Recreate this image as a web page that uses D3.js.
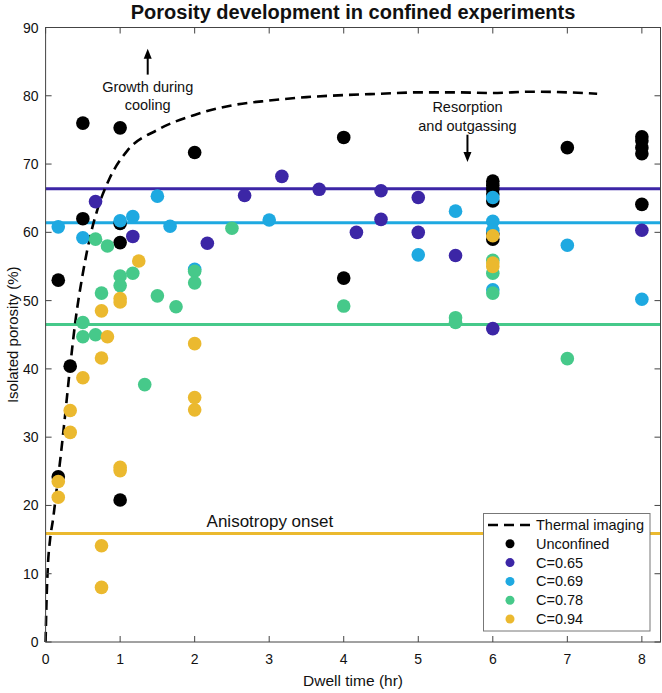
<!DOCTYPE html>
<html>
<head>
<meta charset="utf-8">
<script src="https://cdn.jsdelivr.net/npm/d3@7"></script>
<style>
  body { margin: 0; background: #fff; }
  text { font-family: "Liberation Sans", Arial, Helvetica, sans-serif; fill: #111; }
</style>
</head>
<body>
<div id="chart"></div>
<script>
// data
const unconfinedT = [0.17, 0.17, 0.33, 0.5, 0.5, 1, 1, 1, 1, 2, 4, 4, 6, 6, 6, 6, 6, 6, 6, 7, 8, 8, 8, 8, 8];
const unconfinedV = [53, 24.2, 40.4, 76, 62, 75.3, 61.3, 58.5, 20.8, 71.7, 73.9, 53.3, 67.5, 66.9, 66.3, 65.6, 64.6, 59.8, 59, 72.4, 74, 73.4, 72.4, 71.5, 64.1];

const c065T = [0.67, 1.17, 2.17, 2.67, 3.17, 3.67, 4.17, 4.5, 4.5, 5, 5, 5.5, 6, 8];
const c065V = [64.5, 59.4, 58.4, 65.4, 68.2, 66.3, 60, 66.1, 61.9, 65.1, 60, 56.6, 45.9, 60.3];

const c069T = [0.17, 0.5, 1, 1.17, 1.5, 1.67, 2, 3, 5, 5.5, 6, 6, 6, 6, 7, 8];
const c069V = [60.8, 59.2, 61.7, 62.3, 65.3, 60.9, 54.6, 61.8, 56.7, 63.1, 65.1, 61.6, 60.3, 51.6, 58.1, 50.2];

const c078T = [0.5, 0.5, 0.67, 0.67, 0.75, 0.83, 1, 1, 1.17, 1.33, 1.5, 1.75, 2, 2, 2.5, 4, 5.5, 5.5, 6, 6, 6, 7];
const c078V = [46.8, 44.7, 59, 45, 51.1, 58, 53.6, 52.2, 54, 37.7, 50.7, 49.1, 54.3, 52.6, 60.6, 49.2, 47.5, 46.8, 55.9, 54, 51.1, 41.5];

const c094T = [0.17, 0.17, 0.33, 0.33, 0.5, 0.75, 0.75, 0.75, 0.75, 0.83, 1, 1, 1, 1, 1.25, 2, 2, 2, 6, 6, 6];
const c094V = [23.5, 21.2, 33.9, 30.7, 38.7, 48.5, 41.6, 14.1, 8, 44.7, 50.3, 49.8, 25.6, 25.1, 55.8, 43.7, 35.8, 34, 59.5, 55.5, 55];

// thermal imaging curve
const thermalT = [0, 0.01, 0.03, 0.06, 0.1, 0.15, 0.2, 0.25, 0.33, 0.4, 0.5, 0.6, 0.7, 0.85, 1.1, 1.5, 2, 2.5, 3, 3.5, 4, 4.5, 5, 5.5, 6, 6.5, 7, 7.4];
const thermalV = [0, 5, 11, 15, 18, 22.5, 27, 32, 40.4, 47, 54, 59.5, 63.5, 67.7, 72, 75, 77.2, 78.6, 79.3, 79.8, 80.1, 80.3, 80.5, 80.5, 80.4, 80.6, 80.5, 80.3];

// mean levels per confinement
const levelNames = ['C=0.65', 'C=0.69', 'C=0.78', 'C=0.94'];
const levelValues = [66.4, 61.4, 46.5, 15.9];

const seriesNames = ['Unconfined', 'C=0.65', 'C=0.69', 'C=0.78', 'C=0.94'];
const seriesColors = ['#000000', '#3c26a6', '#1ea9e1', '#46c98a', '#ebb92f'];

const xTicks = [0, 1, 2, 3, 4, 5, 6, 7, 8];
const yTicks = [0, 10, 20, 30, 40, 50, 60, 70, 80, 90];

// settings
const width = 662;
const height = 693;
const margin = { top: 27.5, right: 1.5, bottom: 51, left: 45.6 };

const series = [
  { name: seriesNames[0], t: unconfinedT, v: unconfinedV },
  { name: seriesNames[1], t: c065T, v: c065V },
  { name: seriesNames[2], t: c069T, v: c069V },
  { name: seriesNames[3], t: c078T, v: c078V },
  { name: seriesNames[4], t: c094T, v: c094V }
];

const color = d3.scaleOrdinal(seriesNames, seriesColors);

const svg = d3.select('#chart')
  .append('svg')
  .attr('width', width)
  .attr('height', height);

const x = d3.scaleLinear()
  .domain([0, 8.25])
  .range([margin.left, width - margin.right]);

const y = d3.scaleLinear()
  .domain([0, 90])
  .range([height - margin.bottom, margin.top]);

const x0 = x.range()[0], x1 = x.range()[1];
const y0 = y.range()[0], y1 = y.range()[1];

// title
svg.append('text')
  .attr('x', (x0 + x1) / 2)
  .attr('y', 19)
  .attr('text-anchor', 'middle')
  .style('font-size', '20px')
  .style('font-weight', 'bold')
  .text('Porosity development in confined experiments');

// horizontal level lines
svg.append('g')
  .selectAll('line')
  .data(levelNames.map((n, i) => ({ name: n, value: levelValues[i] })))
  .join('line')
  .attr('x1', x0)
  .attr('x2', x1)
  .attr('y1', d => y(d.value))
  .attr('y2', d => y(d.value))
  .attr('stroke', d => color(d.name))
  .attr('stroke-width', 3);

// thermal imaging dashed curve
const line = d3.line()
  .curve(d3.curveMonotoneX)
  .x((d, i) => x(thermalT[i]))
  .y(d => y(d));

svg.append('path')
  .attr('d', line(thermalV))
  .attr('fill', 'none')
  .attr('stroke', '#000')
  .attr('stroke-width', 2.6)
  .attr('stroke-dasharray', '10,6');

// points
const points = svg.append('g');
series.forEach(s => {
  points.append('g')
    .selectAll('circle')
    .data(s.v.map((v, i) => ({ t: s.t[i], v })))
    .join('circle')
    .attr('cx', d => x(d.t))
    .attr('cy', d => y(d.v))
    .attr('r', 6.8)
    .attr('fill', color(s.name));
});

// axes box with inward ticks
const axisColor = '#444';
const tickLen = 6;
const box = svg.append('g');
box.append('rect')
  .attr('x', x0)
  .attr('y', y1)
  .attr('width', x1 - x0)
  .attr('height', y0 - y1)
  .attr('fill', 'none')
  .attr('stroke', axisColor)
  .attr('stroke-width', 1);

box.selectAll('.xt')
  .data(xTicks)
  .join('path')
  .attr('class', 'xt')
  .attr('d', d => `M${x(d)},${y0}V${y0 - tickLen}M${x(d)},${y1}V${y1 + tickLen}`)
  .attr('stroke', axisColor);

box.selectAll('.yt')
  .data(yTicks)
  .join('path')
  .attr('class', 'yt')
  .attr('d', d => `M${x0},${y(d)}H${x0 + tickLen}M${x1},${y(d)}H${x1 - tickLen}`)
  .attr('stroke', axisColor);

box.selectAll('.xl')
  .data(xTicks)
  .join('text')
  .attr('class', 'xl')
  .attr('x', d => x(d))
  .attr('y', y0 + 22)
  .attr('text-anchor', 'middle')
  .style('font-size', '14px')
  .text(d => d);

box.selectAll('.yl')
  .data(yTicks)
  .join('text')
  .attr('class', 'yl')
  .attr('x', x0 - 7)
  .attr('y', d => y(d) + 5)
  .attr('text-anchor', 'end')
  .style('font-size', '14px')
  .text(d => d);

svg.append('text')
  .attr('x', (x0 + x1) / 2)
  .attr('y', 686)
  .attr('text-anchor', 'middle')
  .style('font-size', '15.5px')
  .text('Dwell time (hr)');

svg.append('text')
  .attr('transform', `translate(18,${(y0 + y1) / 2}) rotate(-90)`)
  .attr('text-anchor', 'middle')
  .style('font-size', '15px')
  .text('Isolated porosity (%)');

// annotations
function arrow (xv, yFrom, yTo) {
  const xp = x(xv), a = y(yFrom), b = y(yTo);
  const dir = b < a ? 1 : -1;
  svg.append('line')
    .attr('x1', xp).attr('x2', xp)
    .attr('y1', a).attr('y2', b + dir * 8)
    .attr('stroke', '#000')
    .attr('stroke-width', 2);
  svg.append('path')
    .attr('d', `M${xp},${b}L${xp - 4},${b + dir * 10}L${xp + 4},${b + dir * 10}Z`)
    .attr('fill', '#000');
}

function note (xv, yv, str, size) {
  svg.append('text')
    .attr('x', x(xv))
    .attr('y', y(yv))
    .attr('text-anchor', 'middle')
    .attr('dominant-baseline', 'central')
    .style('font-size', size)
    .text(str);
}

arrow(1.37, 83.1, 86.9);
note(1.37, 81.3, 'Growth during', '14.5px');
note(1.37, 78.6, 'cooling', '14.5px');

arrow(5.66, 74.3, 70.3);
note(5.66, 78.3, 'Resorption', '14.5px');
note(5.66, 75.6, 'and outgassing', '14.5px');

svg.append('text')
  .attr('x', x(2.16))
  .attr('y', y(16.9))
  .attr('text-anchor', 'start')
  .style('font-size', '17px')
  .text('Anisotropy onset');

// legend
const legend = svg.append('g');
legend.append('rect')
  .attr('x', 483.5)
  .attr('y', 513.5)
  .attr('width', 166.5)
  .attr('height', 117.5)
  .attr('fill', '#fff')
  .attr('stroke', '#777')
  .attr('stroke-width', 1);

const rowY = i => 525 + i * 18.8;
legend.append('line')
  .attr('x1', 488).attr('x2', 532)
  .attr('y1', rowY(0)).attr('y2', rowY(0))
  .attr('stroke', '#000')
  .attr('stroke-width', 2.6)
  .attr('stroke-dasharray', '10,6');
legend.append('text')
  .attr('x', 536)
  .attr('y', rowY(0))
  .attr('dominant-baseline', 'central')
  .style('font-size', '14.5px')
  .text('Thermal imaging');

legend.selectAll('circle')
  .data(seriesNames)
  .join('circle')
  .attr('cx', 510)
  .attr('cy', (d, i) => rowY(i + 1))
  .attr('r', 4.5)
  .attr('fill', d => color(d));

legend.selectAll('.lt')
  .data(seriesNames)
  .join('text')
  .attr('class', 'lt')
  .attr('x', 536)
  .attr('y', (d, i) => rowY(i + 1))
  .attr('dominant-baseline', 'central')
  .style('font-size', '14.5px')
  .text(d => d);
</script>
</body>
</html>
